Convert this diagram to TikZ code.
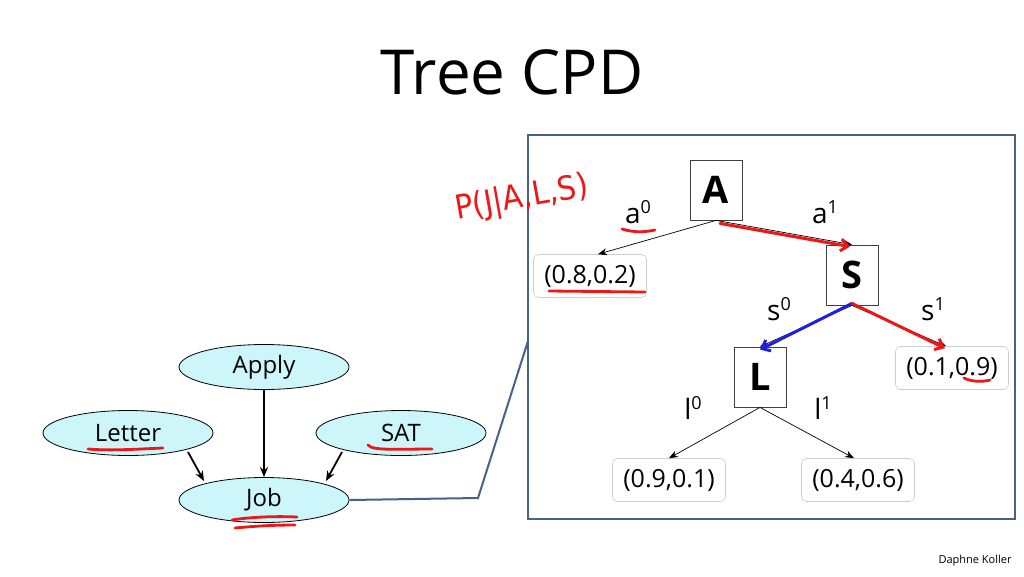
\documentclass[tikz,border=0pt]{standalone}
\usepackage{fontspec}
\setmainfont{Open Sans}
\newfontfamily\handfont{DejaVu Sans Condensed}
\usetikzlibrary{shapes.geometric,arrows.meta}
\definecolor{nodefill}{RGB}{204,246,250}
\definecolor{boxblue}{RGB}{70,98,135}
\definecolor{leafgray}{RGB}{205,205,205}
\definecolor{inkred}{RGB}{238,22,22}
\definecolor{inkblue}{RGB}{30,30,230}
\newcommand{\supr}[1]{\raisebox{0.7ex}{\fontsize{18}{18}\selectfont #1}}
\begin{document}
\begin{tikzpicture}[x=1pt,y=-1pt,
 var/.style={ellipse,draw=black,fill=nodefill,line width=0.8pt,minimum width=170pt,minimum height=45pt,inner sep=0pt,font=\fontsize{24}{28}\selectfont},
 splitbox/.style={draw=black!75,line width=0.8pt,minimum width=52pt,minimum height=60pt,inner sep=0pt,font=\fontsize{38}{40}\selectfont\bfseries},
 leaf/.style={draw=leafgray,rounded corners=5pt,line width=0.6pt,minimum width=113pt,minimum height=43pt,inner sep=0pt,font=\fontsize{25}{30}\selectfont},
 lbl/.style={font=\fontsize{28}{30}\selectfont},
 edge/.style={-{Stealth[length=9pt,width=7pt]},line width=0.7pt},
 gedge/.style={-{Stealth[length=10pt,width=8pt]},line width=1.8pt},
 ink/.style={inkred,line width=2.8pt,line cap=round},
 inkarrow/.style={line width=3pt,line cap=round,-{Straight Barb[length=7pt,width=12pt]}},
]
\useasboundingbox (0,0) rectangle (1024,576);
% title
\node[font=\fontsize{62}{66}\selectfont] (title) at (512,72) {Tree CPD};
% Bayesian network
\node[var] (apply) at (264,367) {Apply};
\node[var] (letter) at (128,433) {Letter};
\node[var] (sat) at (401,433) {SAT};
\node[var] (job) at (264,500) {Job};
\draw[gedge] (apply) -- (job);
\coordinate (lstart) at (188,452);
\coordinate (lend) at (204,481);
\draw[gedge] (lstart) -- (lend);
\coordinate (sstart) at (342,452);
\coordinate (send) at (326,481);
\draw[gedge] (sstart) -- (send);
% frame
\node[draw=boxblue,line width=2.5pt,minimum width=487pt,minimum height=384pt,inner sep=0pt] (frame) at (771.5,327) {};
\coordinate (bend) at (478,498);
\coordinate (tip) at (528,341);
\draw[boxblue,line width=2pt] (job.east) -- (bend) -- (tip);
% tree
\node[splitbox] (A) at (716,190) {A};
\node[splitbox] (S) at (852,275) {S};
\node[splitbox] (L) at (760,377) {L};
\node[leaf] (l08) at (590,276) {(0.8,0.2)};
\node[leaf] (l01) at (952,368) {(0.1,0.9)};
\node[leaf] (l09) at (669,480) {(0.9,0.1)};
\node[leaf] (l04) at (858,480) {(0.4,0.6)};
\draw[edge] (A.south) -- ([xshift=8pt]l08.north);
\draw[edge] (A.south) -- (S.north);
\draw[edge] (S.south) -- (L.north);
\draw[edge] (S.south) -- ([xshift=-6pt]l01.north);
\draw[edge] (L.south) -- (l09.north);
\draw[edge] (L.south) -- ([xshift=-4pt]l04.north);
% branch labels
\node[lbl] (a0) at (638,212) {a\supr{0}};
\node[lbl] (a1) at (825,212) {a\supr{1}};
\node[lbl] (s0) at (779,309) {s\supr{0}};
\node[lbl] (s1) at (933,309) {s\supr{1}};
\node[lbl] (l0) at (693,408) {l\supr{0}};
\node[lbl] (l1) at (823,408) {l\supr{1}};
% ink annotations
\draw[inkarrow,inkred] ([xshift=4pt,yshift=-3pt]A.south) -- ([xshift=-2pt,yshift=-2pt]S.north);
\draw[inkarrow,inkblue] ([yshift=2pt]S.south) -- ([yshift=-3pt]L.north);
\draw[inkarrow,inkred] ([yshift=2pt]S.south) -- ([xshift=-7pt,yshift=-2pt]l01.north);
\node[inkred,font=\handfont\fontsize{33}{36}\selectfont,rotate=10,inner sep=0pt] (pj) at (522,199) {P(J|A,L,S)};
\draw[ink] (622,229) .. controls (635,233) and (645,232) .. (655,230);
\draw[ink] (549,291) -- (645,292);
\draw[ink] (88,449) .. controls (110,451) and (140,449) .. (163,448);
\draw[ink] (368,445) .. controls (372,451) and (400,449) .. (432,449);
\draw[ink] (232,520) .. controls (250,517) and (275,516) .. (297,517);
\draw[ink] (235,528) .. controls (255,526) and (275,525) .. (295,525);
\draw[ink] (964,378) .. controls (972,382) and (982,382) .. (990,380);
% credit
\node[font=\fontsize{11}{12}\selectfont] (credit) at (975,561) {Daphne Koller};
\end{tikzpicture}
\end{document}
